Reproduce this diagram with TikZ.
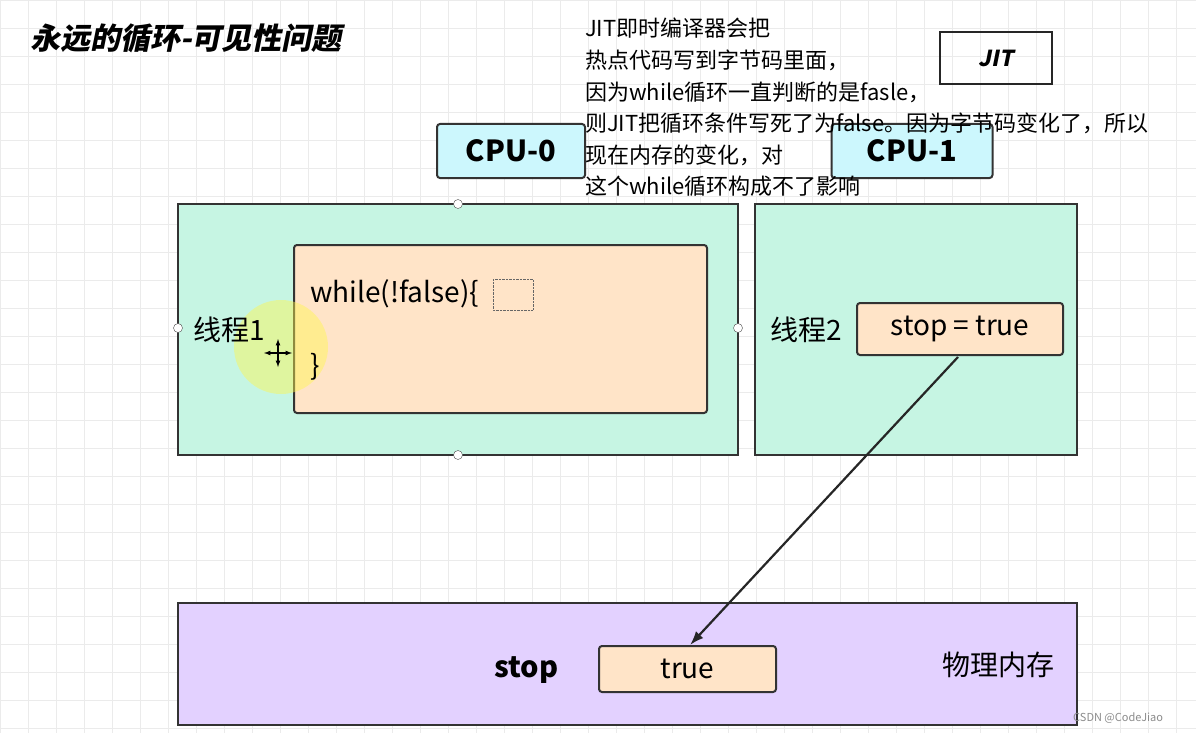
\documentclass[tikz,border=0pt]{standalone}
\usepackage{fontspec}
\usetikzlibrary{arrows.meta}
\setmainfont{Noto Sans CJK SC}
\newfontfamily\slfont{Noto Sans CJK SC}[FakeSlant=0.2]
\definecolor{grn}{RGB}{198,245,227}
\definecolor{cyn}{RGB}{204,247,253}
\definecolor{org}{RGB}{255,228,200}
\definecolor{pur}{RGB}{227,209,255}
\begin{document}
\begin{tikzpicture}[x=1pt,y=-1pt,
 box/.style={draw=black!80,line width=2pt,rounded corners=3pt},
 dot/.style={circle,draw=black!70,fill=white,inner sep=0pt,minimum size=9pt},
 t/.style={inner sep=0pt,anchor=west},
 big/.style={font=\fontsize{28}{32}\selectfont}]
\useasboundingbox (0,0) rectangle (1196,733);
\fill[white] (0,0) rectangle (1196,733);
\foreach \x in {0,28,...,1196} \draw[black!8,line width=0.8pt] (\x,0)--(\x,733);
\foreach \y in {0,28,...,733} \draw[black!8,line width=0.8pt] (0,\y)--(1196,\y);
\node[t,font=\slfont\bfseries\fontsize{30}{34}\selectfont] (title) at (30,38) {永远的循环-可见性问题};
\node[draw=black!85,line width=2pt,minimum width=112pt,minimum height=52pt,font=\slfont\bfseries\fontsize{22}{26}\selectfont] (jit) at (996,58) {JIT};
\node[box,fill=cyn,minimum width=148pt,minimum height=54pt,font=\bfseries\fontsize{29}{32}\selectfont] (cpu0) at (511,151) {CPU-0};
\node[box,fill=cyn,minimum width=161pt,minimum height=54pt,font=\bfseries\fontsize{29}{32}\selectfont] (cpu1) at (912,151) {CPU-1};
\node[t,anchor=north west,align=left,font=\fontsize{22}{31.6}\selectfont] (note) at (585,18) {JIT即时编译器会把\\热点代码写到字节码里面，\\因为while循环一直判断的是fasle，\\则JIT把循环条件写死了为false。因为字节码变化了，所以\\现在内存的变化，对\\这个while循环构成不了影响};
\draw[line width=2pt,draw=black!80,fill=grn] (178,204) rectangle (738,455);
\node[box,fill=org,minimum width=413pt,minimum height=168pt] (inner) at (500.5,329) {};
\fill[yellow!70,opacity=0.45] (281,347) circle (47);
\node[t,big] (wh) at (310,294) {while(!false)\{};
\draw[densely dotted,black!60] (493,279) rectangle (533,310);
\node[t,big] (cl) at (310,367) {\}};
\node[t,big] (th1) at (193,330) {线程1};
\foreach \p in {(458,204),(178,328),(738,328),(458,455)} \node[dot] at \p {};
\draw[line width=1.2pt,<->,>=latex] (264,353)--(292,353);
\draw[line width=1.2pt,<->,>=latex] (278,339)--(278,367);
\draw[line width=2pt,draw=black!80,fill=grn] (755,204) rectangle (1077,455);
\node[t,big] (th2) at (770,330) {线程2};
\node[box,fill=org,minimum width=206pt,minimum height=52pt,big] (st) at (960,329) {stop = true};
\draw[line width=2pt,draw=black!80,fill=pur] (178,603) rectangle (1077,725);
\node[t,font=\bfseries\fontsize{29}{32}\selectfont] (stop) at (494,670) {stop};
\node[box,fill=org,minimum width=177pt,minimum height=46pt,big] (tr) at (687.5,669) {true};
\node[t,big] (mem) at (942,665) {物理内存};
\draw[line width=2.2pt,black!85,-{Latex[length=14pt,width=10pt]}] (958,357)--(690,645);
\node[t,font=\fontsize{11}{13}\selectfont,text=black!45] (csdn) at (1073,718) {CSDN @CodeJiao};
\end{tikzpicture}
\end{document}
